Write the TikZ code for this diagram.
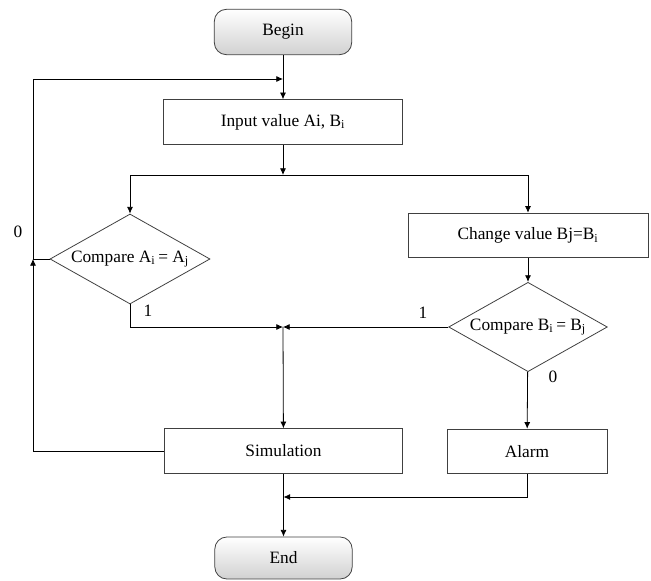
\documentclass[tikz,border=0pt]{standalone}
\usepackage{fontspec}
\setmainfont{Liberation Serif}
\usetikzlibrary{shapes.geometric,arrows.meta}

\newcommand{\flowfont}{\fontsize{13}{15}\selectfont}
\tikzstyle{tS}=[rounded corners=9pt,draw=black!75,line width=0.6pt,top color=white,bottom color=black!18,minimum width=103pt,minimum height=34pt,inner sep=0pt,font=\flowfont]
\tikzstyle{bS}=[rectangle,draw=black!75,line width=0.6pt,minimum height=33.5pt,inner sep=0pt,font=\flowfont]
\tikzstyle{dS}=[diamond,aspect=1.76,draw=black!75,line width=0.6pt,minimum width=120pt,minimum height=67.5pt,inner sep=0pt,font=\flowfont]
\tikzstyle{aS}=[line width=0.6pt,-{Latex[length=5pt,width=4.5pt]}]
\tikzstyle{numS}=[inner sep=0pt,font=\flowfont]

\begin{document}
\begin{tikzpicture}[x=0.75pt,y=-0.75pt]%[1 unit = 1 px]
                \useasboundingbox (0,0) rectangle (651,581);
                \draw (283,32) node[tS] (begin) {Begin};
                \draw (283,122) node[bS,minimum width=179pt] (input) {Input value Ai, B\textsubscript{i}};
                \draw (130,259) node[dS] (cmpA) {Compare A\textsubscript{i}\,= A\textsubscript{j}};
                \draw (528,235.5) node[bS,minimum width=180pt] (change) {Change value Bj=B\textsubscript{i}};
                \draw (528,327) node[dS,minimum width=119pt,minimum height=67pt] (cmpB) {Compare B\textsubscript{i}\,= B\textsubscript{j}};
                \draw (283.5,451) node[bS,minimum width=179pt] (sim) {Simulation};
                \draw (527,451.5) node[bS,minimum width=120pt] (alarm) {Alarm};
                \draw (283.5,558) node[tS,minimum height=31.5pt] (end) {End};
                % junction points
                \coordinate (split) at (283,175);
                \coordinate (join) at (283,327);
                \coordinate (merge) at (283.5,497);
                \coordinate (back) at (33,259);
                \coordinate (top) at (283,79);
                % labels of the branches
                \draw (18,232) node[numS] (n0a) {0};
                \draw (148,311) node[numS] (n1a) {1};
                \draw (423,313) node[numS] (n1b) {1};
                \draw (553,377) node[numS] (n0b) {0};
                \path
                    (begin) edge[aS] (input)
                    (input) edge[aS] (split)
                    (change) edge[aS] (cmpB)
                    (cmpB.west) edge[aS] (join)
                    (join) edge[aS] (sim)
                    (cmpB) edge[aS] (alarm)
                    (sim) edge[aS] (end)
                ;
                \draw[aS] (split) -| (cmpA.north);
                \draw[aS] (split) -| (change.north);
                \draw[aS] (cmpA.south) |- (join);
                \draw[aS] (alarm.south) |- (merge);
                \draw[aS] (sim.west) -| (back);
                \draw[aS] (cmpA.west) -- (back) |- (top);
        \end{tikzpicture}
\end{document}
